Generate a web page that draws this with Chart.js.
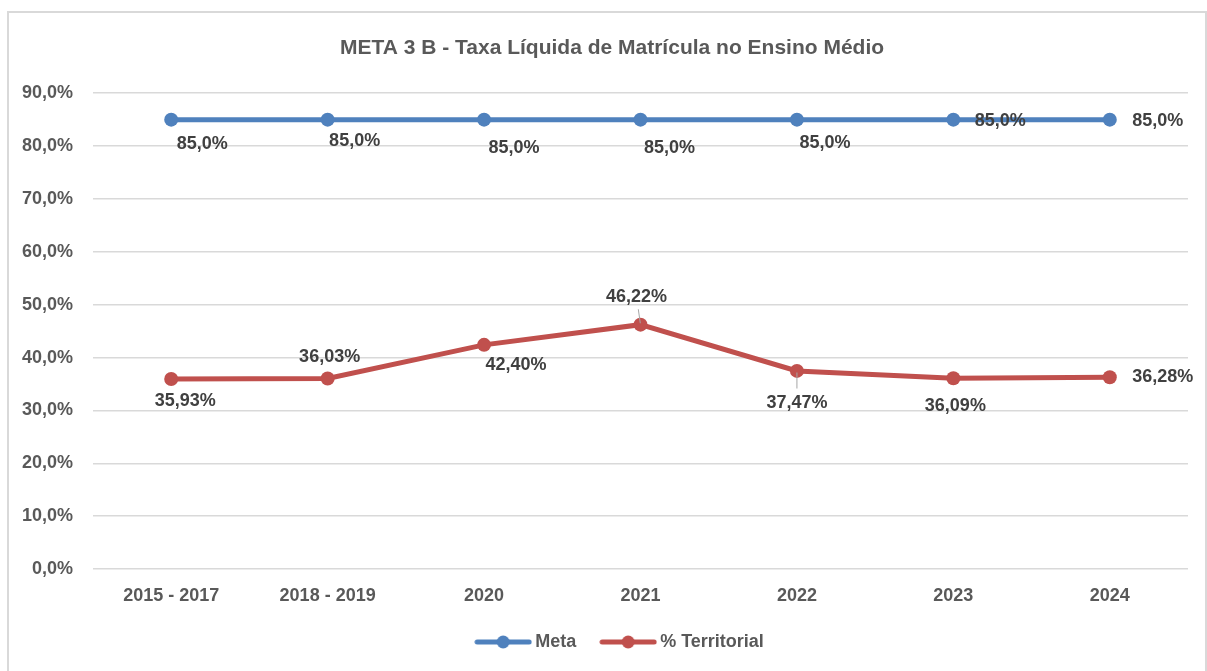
<!DOCTYPE html>
<html>
<head>
<meta charset="utf-8">
<script src="https://cdn.jsdelivr.net/npm/chart.js@4.4.0/dist/chart.umd.min.js"></script>
<style>
  body { margin: 0; background: #fff; }
  #wrap { position: relative; width: 1207px; height: 671px; overflow: hidden; }
  #frame { position: absolute; left: 7px; top: 11px; width: 1196px; height: 700px; border: 2px solid #d9d9d9; pointer-events: none; }
</style>
</head>
<body>
<div id="wrap">
  <canvas id="grafico" width="1207" height="671"></canvas>
  <div id="frame"></div>
</div>
<script>
const FONTE = "'Liberation Sans Narrow', 'Arial Narrow', 'Liberation Sans', sans-serif";

const categorias = ['2015 - 2017', '2018 - 2019', '2020', '2021', '2022', '2023', '2024'];
const meta = [85.0, 85.0, 85.0, 85.0, 85.0, 85.0, 85.0];
const territorial = [35.93, 36.03, 42.40, 46.22, 37.47, 36.09, 36.28];
const ticksY = [0, 10, 20, 30, 40, 50, 60, 70, 80, 90];

// deslocamento dos rótulos de dados (px) em relação a cada ponto
const rotuloMeta = [[31, 24], [27, 21], [30, 28], [29, 28], [28, 23], [47, 1], [48, 1]];
const rotuloTerr = [[14, 22], [2, -21], [32, 20], [-4, -28], [0, 32], [2, 28], [53, 0]];
const linhaGuiaTerr = [false, false, false, true, true, false, false];

function fmt(v, casas) {
    return v.toFixed(casas).replace('.', ',') + '%';
}

function iconeLegenda(cor) {
    const c = document.createElement('canvas');
    c.width = 58; c.height = 16;
    const g = c.getContext('2d');
    g.strokeStyle = cor;
    g.lineWidth = 5;
    g.lineCap = 'round';
    g.beginPath(); g.moveTo(3, 8); g.lineTo(55, 8); g.stroke();
    g.fillStyle = cor;
    g.beginPath(); g.arc(29, 8, 6.5, 0, Math.PI * 2); g.fill();
    return c;
}

const rotulosPlugin = {
    id: 'rotulos',
    afterLayout(chart) {
        // título e legenda um pouco à direita, como no original
        chart.titleBlock.left += 18;
        chart.titleBlock.right += 18;
        chart.legend.left += 28;
        chart.legend.right += 28;
    },
    afterDatasetsDraw(chart) {
        const ctx = chart.ctx;
        ctx.save();
        ctx.font = 'bold 18px ' + FONTE;
        ctx.fillStyle = '#404040';
        ctx.textAlign = 'center';
        ctx.textBaseline = 'middle';
        chart.data.datasets.forEach((ds, di) => {
            const pts = chart.getDatasetMeta(di).data;
            pts.forEach((p, i) => {
                const off = ds.rotulos[i];
                const lx = p.x + off[0], ly = p.y + off[1];
                if (ds.guias && ds.guias[i]) {
                    ctx.strokeStyle = '#a6a6a6';
                    ctx.lineWidth = 1;
                    ctx.beginPath();
                    ctx.moveTo(lx + (p.x - lx) * 0.45, ly + (p.y - ly) * 0.45);
                    ctx.lineTo(p.x + (lx - p.x) * 0.05, p.y + (ly - p.y) * 0.05);
                    ctx.stroke();
                }
                ctx.fillText(fmt(ds.data[i], ds.casas), lx, ly);
            });
        });
        ctx.restore();
    }
};

const ctx = document.getElementById('grafico').getContext('2d');
new Chart(ctx, {
    type: 'line',
    data: {
        labels: categorias,
        datasets: [
            {
                label: 'Meta',
                data: meta,
                borderColor: '#4f81bd',
                backgroundColor: '#4f81bd',
                borderWidth: 5,
                pointRadius: 7,
                pointBorderWidth: 0,
                casas: 1,
                rotulos: rotuloMeta
            },
            {
                label: '% Territorial',
                data: territorial,
                borderColor: '#c0504d',
                backgroundColor: '#c0504d',
                borderWidth: 5,
                pointRadius: 7,
                pointBorderWidth: 0,
                casas: 2,
                rotulos: rotuloTerr,
                guias: linhaGuiaTerr
            }
        ]
    },
    options: {
        responsive: false,
        animation: false,
        layout: { padding: { left: 0, right: 19, top: 22, bottom: 10 } },
        plugins: {
            title: {
                display: true,
                text: 'META 3 B - Taxa Líquida de Matrícula no Ensino Médio',
                color: '#595959',
                font: { family: FONTE, size: 21, weight: 'bold' },
                padding: { top: 14, bottom: 32 }
            },
            legend: {
                position: 'bottom',
                labels: {
                    usePointStyle: true,
                    pointStyleWidth: 46,
                    padding: 29,
                    color: '#595959',
                    font: { family: FONTE, size: 18, weight: 'bold' },
                    generateLabels(chart) {
                        return chart.data.datasets.map((ds, i) => ({
                            text: ds.label,
                            pointStyle: iconeLegenda(ds.borderColor),
                            fontColor: '#595959',
                            strokeStyle: ds.borderColor,
                            fillStyle: ds.borderColor,
                            lineWidth: 0,
                            datasetIndex: i
                        }));
                    }
                }
            },
            tooltip: { enabled: false }
        },
        scales: {
            x: {
                offset: true,
                grid: { display: false },
                border: { display: false },
                ticks: {
                    color: '#595959',
                    padding: 8,
                    maxRotation: 0,
                    font: { family: FONTE, size: 18, weight: 'bold' }
                },
                afterFit(s) { s.height = 35; }
            },
            y: {
                min: 0,
                max: 90,
                afterBuildTicks(s) { s.ticks = ticksY.map(v => ({ value: v })); },
                grid: { color: '#d9d9d9', lineWidth: 1.5, drawTicks: false },
                border: { display: false },
                ticks: {
                    color: '#595959',
                    padding: 20,
                    font: { family: FONTE, size: 18, weight: 'bold' },
                    callback: v => fmt(v, 1)
                },
                afterFit(s) { s.width = 93; }
            }
        }
    },
    plugins: [rotulosPlugin]
});
</script>
</body>
</html>
